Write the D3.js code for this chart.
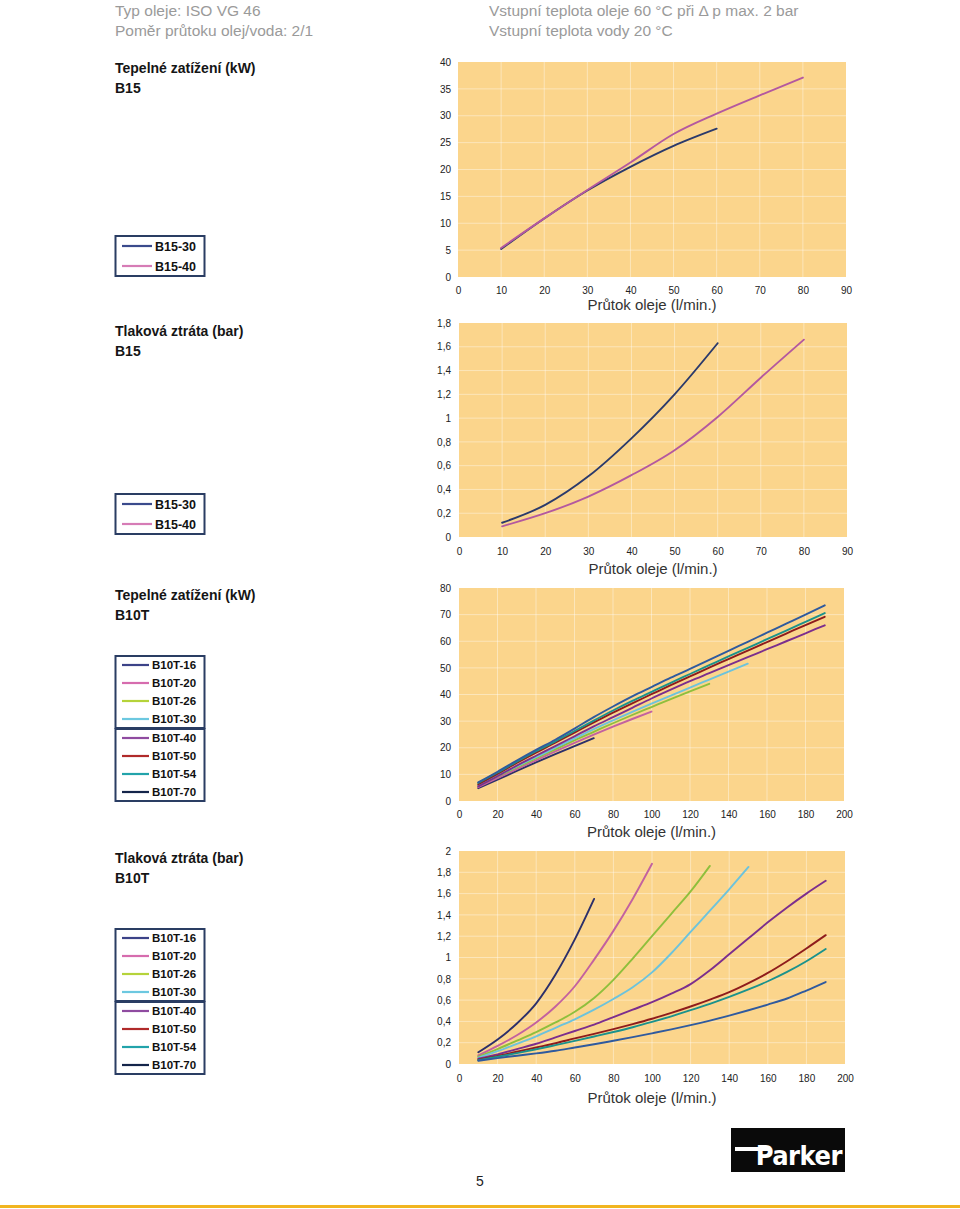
<!DOCTYPE html>
<html><head><meta charset="utf-8">
<script src="https://cdn.jsdelivr.net/npm/d3@7/dist/d3.min.js"></script>
<style>
html,body{margin:0;padding:0;background:#fff;}
svg{display:block;}
</style></head>
<body>
<svg id="page" width="960" height="1209"></svg>
<script>
// ---------- DATA ----------
const b15Flow = [10,20,30,40,50,60,70,80];
const b15Names = ["B15-30","B15-40"];
const b15_30_heat = [5.2,10.9,16.1,20.5,24.4,27.6];
const b15_40_heat = [5.4,10.9,16.2,21.3,26.6,30.4,33.8,37.1];
const b15_30_dp = [0.12,0.27,0.51,0.83,1.2,1.63];
const b15_40_dp = [0.09,0.2,0.34,0.52,0.73,1.01,1.34,1.66];

const b10tFlow = [10,20,30,40,50,60,70,80,90,100,110,120,130,140,150,160,170,180,190];
const b10tNames = ["B10T-16","B10T-20","B10T-26","B10T-30","B10T-40","B10T-50","B10T-54","B10T-70"];
const b10t16_heat = [4.8,8,11.3,14.5,17.6,20.6,23.6];
const b10t20_heat = [5.2,8.6,12,15.3,18.6,21.8,24.9,27.9,30.8,33.6];
const b10t26_heat = [5.8,9.2,12.6,16,19.4,22.8,26,29.2,32.3,35.3,38.3,41.2,44];
const b10t30_heat = [6,9.5,13,16.5,20,23.5,27,30.3,33.5,36.6,39.6,42.6,45.6,48.6,51.6];
const b10t40_heat = [5.5,9.3,13.3,17,20.6,24.3,28,31.5,35,38.5,41.8,45,48,51,54,57,60,63,66];
const b10t50_heat = [6.3,10.2,14.3,18.2,21.9,25.7,29.5,33.2,36.7,40.1,43.5,46.8,50.1,53.3,56.5,59.7,62.9,66.1,69.2];
const b10t54_heat = [6.8,10.7,14.8,18.7,22.4,26.3,30.2,34,37.6,41,44.4,47.7,51,54.3,57.5,60.8,64,67.3,70.6];
const b10t70_heat = [7,11,15.2,19.2,23,27.2,31.5,35.5,39.3,42.8,46.3,49.6,53,56.4,59.8,63.2,66.6,70,73.5];

const b10t16_dp = [0.11,0.23,0.38,0.57,0.84,1.17,1.55];
const b10t20_dp = [0.08,0.17,0.27,0.39,0.54,0.73,0.98,1.25,1.55,1.88];
const b10t26_dp = [0.07,0.14,0.22,0.3,0.39,0.49,0.62,0.79,0.99,1.2,1.41,1.62,1.86];
const b10t30_dp = [0.06,0.12,0.19,0.26,0.34,0.42,0.51,0.61,0.72,0.86,1.04,1.24,1.44,1.64,1.85];
const b10t40_dp = [0.05,0.09,0.14,0.19,0.25,0.31,0.37,0.44,0.51,0.58,0.66,0.75,0.88,1.03,1.18,1.33,1.47,1.6,1.72];
const b10t50_dp = [0.04,0.075,0.115,0.155,0.195,0.24,0.283,0.328,0.375,0.425,0.48,0.54,0.605,0.675,0.76,0.855,0.965,1.085,1.21];
const b10t54_dp = [0.035,0.068,0.102,0.138,0.177,0.217,0.258,0.3,0.345,0.395,0.448,0.505,0.565,0.63,0.7,0.777,0.865,0.965,1.08];
const b10t70_dp = [0.03,0.055,0.078,0.1,0.125,0.155,0.185,0.218,0.252,0.288,0.325,0.365,0.408,0.455,0.505,0.558,0.615,0.69,0.77];

const ticksX90 = [0,10,20,30,40,50,60,70,80,90];
const ticksX200 = [0,20,40,60,80,100,120,140,160,180,200];
const ticksY40 = [0,5,10,15,20,25,30,35,40];
const ticksY18 = [0,0.2,0.4,0.6,0.8,1,1.2,1.4,1.6,1.8];
const ticksY80 = [0,10,20,30,40,50,60,70,80];
const ticksY2 = [0,0.2,0.4,0.6,0.8,1,1.2,1.4,1.6,1.8,2];

const headerLeft = ["Typ oleje: ISO VG 46","Poměr průtoku olej/voda: 2/1"];
const headerRight = ["Vstupní teplota oleje 60 °C při Δ p max. 2 bar","Vstupní teplota vody 20 °C"];
const xTitle = "Průtok oleje (l/min.)";

// ---------- STYLE ----------
const b15Colors = ["#2b3a6b","#b4589f"];
const b15LegendColors = ["#3a4a8c","#d67cb6"];
const b10tColors = ["#2c2f6a","#c3619f","#8fbf3c","#6cc3dc","#7c2e8d","#8e1c1c","#1a928c","#2f5a9e"];
const b10tLegendColors = ["#3c4388","#d66cae","#b5d33a","#6cc8e0","#8f4ba0","#b02a2a","#22a3aa","#14254a"];

const loc = d3.formatLocale({decimal:",",thousands:" ",grouping:[3],currency:["",""]});
const fmt = loc.format(".1~f");

const svg = d3.select("#page");
const font = "'Liberation Sans', Arial, sans-serif";

// header
svg.selectAll(".hl").data(headerLeft).join("text")
  .attr("x",115).attr("y",(d,i)=>16+i*19.5)
  .attr("font-family",font).attr("font-size",15.5).attr("fill","#9a9a9a").text(d=>d);
svg.selectAll(".hr").data(headerRight).join("text")
  .attr("x",489).attr("y",(d,i)=>16+i*19.5)
  .attr("font-family",font).attr("font-size",15.5).attr("fill","#9a9a9a").text(d=>d);

function sectionTitle(y, t1, t2){
  svg.append("text").attr("x",115).attr("y",y).attr("font-family",font)
    .attr("font-size",14).attr("font-weight","bold").attr("fill","#151515").text(t1);
  svg.append("text").attr("x",115).attr("y",y+20).attr("font-family",font)
    .attr("font-size",14).attr("font-weight","bold").attr("fill","#151515").text(t2);
}

function legend(boxes, names, colors, fs, tx){
  boxes.forEach(b=>{
    svg.append("rect").attr("x",115.5).attr("y",b.y).attr("width",89).attr("height",b.h)
      .attr("fill","#fff").attr("stroke","#2a3d63").attr("stroke-width",2);
    const items = names.slice(b.start,b.end);
    const step = b.h/items.length;
    items.forEach((n,i)=>{
      const cy = b.y + step*(i+0.5);
      svg.append("line").attr("x1",122).attr("x2",tx-3).attr("y1",cy).attr("y2",cy)
        .attr("stroke",colors[b.start+i]).attr("stroke-width",2.2);
      svg.append("text").attr("x",tx).attr("y",cy+fs*0.36).attr("font-family",font)
        .attr("font-size",fs).attr("font-weight","bold").attr("fill","#111").text(n);
    });
  });
}

function chart(cfg){
  const x = d3.scaleLinear().domain([0,cfg.xMax]).range([cfg.x0,cfg.x1]);
  const y = d3.scaleLinear().domain([0,cfg.yMax]).range([cfg.yBot,cfg.yTop]);
  const g = svg.append("g");
  g.append("rect").attr("x",cfg.x0).attr("y",cfg.yTop)
    .attr("width",cfg.x1-cfg.x0).attr("height",cfg.yBot-cfg.yTop).attr("fill","#fbd58c");
  g.selectAll(".gx").data(cfg.xTicks.slice(1,-1)).join("line")
    .attr("x1",d=>x(d)).attr("x2",d=>x(d)).attr("y1",cfg.yTop).attr("y2",cfg.yBot)
    .attr("stroke","#fff").attr("stroke-opacity",0.4).attr("stroke-width",1);
  g.selectAll(".gy").data(cfg.yTicks.slice(1,-1)).join("line")
    .attr("x1",cfg.x0).attr("x2",cfg.x1).attr("y1",d=>y(d)).attr("y2",d=>y(d))
    .attr("stroke","#fff").attr("stroke-opacity",0.4).attr("stroke-width",1);
  const ax = d3.axisBottom(x).tickValues(cfg.xTicks).tickSize(0).tickPadding(0).tickFormat(fmt);
  const axg = g.append("g").attr("transform",`translate(0,${cfg.xLabY})`).call(ax);
  axg.select(".domain").remove();
  axg.selectAll("text").attr("font-family",font).attr("font-size",10).attr("fill","#222").attr("dy","0.35em");
  const ay = d3.axisLeft(y).tickValues(cfg.yTicks).tickSize(0).tickPadding(0).tickFormat(fmt);
  const ayg = g.append("g").attr("transform",`translate(451,0)`).call(ay);
  ayg.select(".domain").remove();
  ayg.selectAll("text").attr("font-family",font).attr("font-size",10).attr("fill","#222");
  g.append("text").attr("x",(cfg.x0+cfg.x1)/2).attr("y",cfg.titleY).attr("text-anchor","middle")
    .attr("font-family",font).attr("font-size",15).attr("fill","#333").text(xTitle);
  const line = d3.line().x(d=>x(d[0])).y(d=>y(d[1])).curve(d3.curveMonotoneX);
  cfg.series.forEach((s,i)=>{
    const pts = s.map((v,k)=>[cfg.flow[k],v]);
    g.append("path").attr("d",line(pts)).attr("fill","none")
      .attr("stroke",cfg.colors[i]).attr("stroke-width",1.9).attr("stroke-linecap","round");
  });
}

// Section 1
sectionTitle(73,"Tepelné zatížení (kW)","B15");
legend([{y:236,h:40,start:0,end:2}], b15Names, b15LegendColors, 12.5, 155);
chart({x0:458,x1:846,yTop:62,yBot:277,xMax:90,yMax:40,xTicks:ticksX90,yTicks:ticksY40,
  xLabY:290,titleY:310,flow:b15Flow,series:[b15_30_heat,b15_40_heat],colors:b15Colors});

// Section 2
sectionTitle(336,"Tlaková ztráta (bar)","B15");
legend([{y:494,h:40,start:0,end:2}], b15Names, b15LegendColors, 12.5, 155);
chart({x0:459,x1:847,yTop:323,yBot:537,xMax:90,yMax:1.8,xTicks:ticksX90,yTicks:ticksY18,
  xLabY:551,titleY:574,flow:b15Flow,series:[b15_30_dp,b15_40_dp],colors:b15Colors});

// Section 3
sectionTitle(600,"Tepelné zatížení (kW)","B10T");
legend([{y:656,h:72,start:0,end:4},{y:729,h:72,start:4,end:8}], b10tNames, b10tLegendColors, 11.5, 152);
chart({x0:459,x1:844,yTop:588,yBot:801,xMax:200,yMax:80,xTicks:ticksX200,yTicks:ticksY80,
  xLabY:814,titleY:837,flow:b10tFlow,
  series:[b10t16_heat,b10t20_heat,b10t26_heat,b10t30_heat,b10t40_heat,b10t50_heat,b10t54_heat,b10t70_heat],
  colors:b10tColors});

// Section 4
sectionTitle(863,"Tlaková ztráta (bar)","B10T");
legend([{y:929,h:72,start:0,end:4},{y:1002,h:72,start:4,end:8}], b10tNames, b10tLegendColors, 11.5, 152);
chart({x0:459,x1:845,yTop:851,yBot:1064,xMax:200,yMax:2,xTicks:ticksX200,yTicks:ticksY2,
  xLabY:1078,titleY:1103,flow:b10tFlow,
  series:[b10t16_dp,b10t20_dp,b10t26_dp,b10t30_dp,b10t40_dp,b10t50_dp,b10t54_dp,b10t70_dp],
  colors:b10tColors});

// footer
svg.append("text").attr("x",480).attr("y",1186).attr("text-anchor","middle")
  .attr("font-family",font).attr("font-size",14).attr("fill","#222").text("5");
svg.append("rect").attr("x",731).attr("y",1128).attr("width",114).attr("height",44).attr("fill","#0a0a0a");
svg.append("rect").attr("x",735).attr("y",1147).attr("width",36).attr("height",4).attr("fill","#fff");
svg.append("text").attr("x",842).attr("y",1165).attr("text-anchor","end")
  .attr("font-family","'DejaVu Sans Condensed','Liberation Sans Narrow','Liberation Sans',sans-serif")
  .attr("font-size",27).attr("font-weight","bold").attr("fill","#fff").attr("letter-spacing","-0.5").text("Parker");
svg.append("rect").attr("x",0).attr("y",1205).attr("width",960).attr("height",3).attr("fill","#f1b51f");
</script>
</body></html>
